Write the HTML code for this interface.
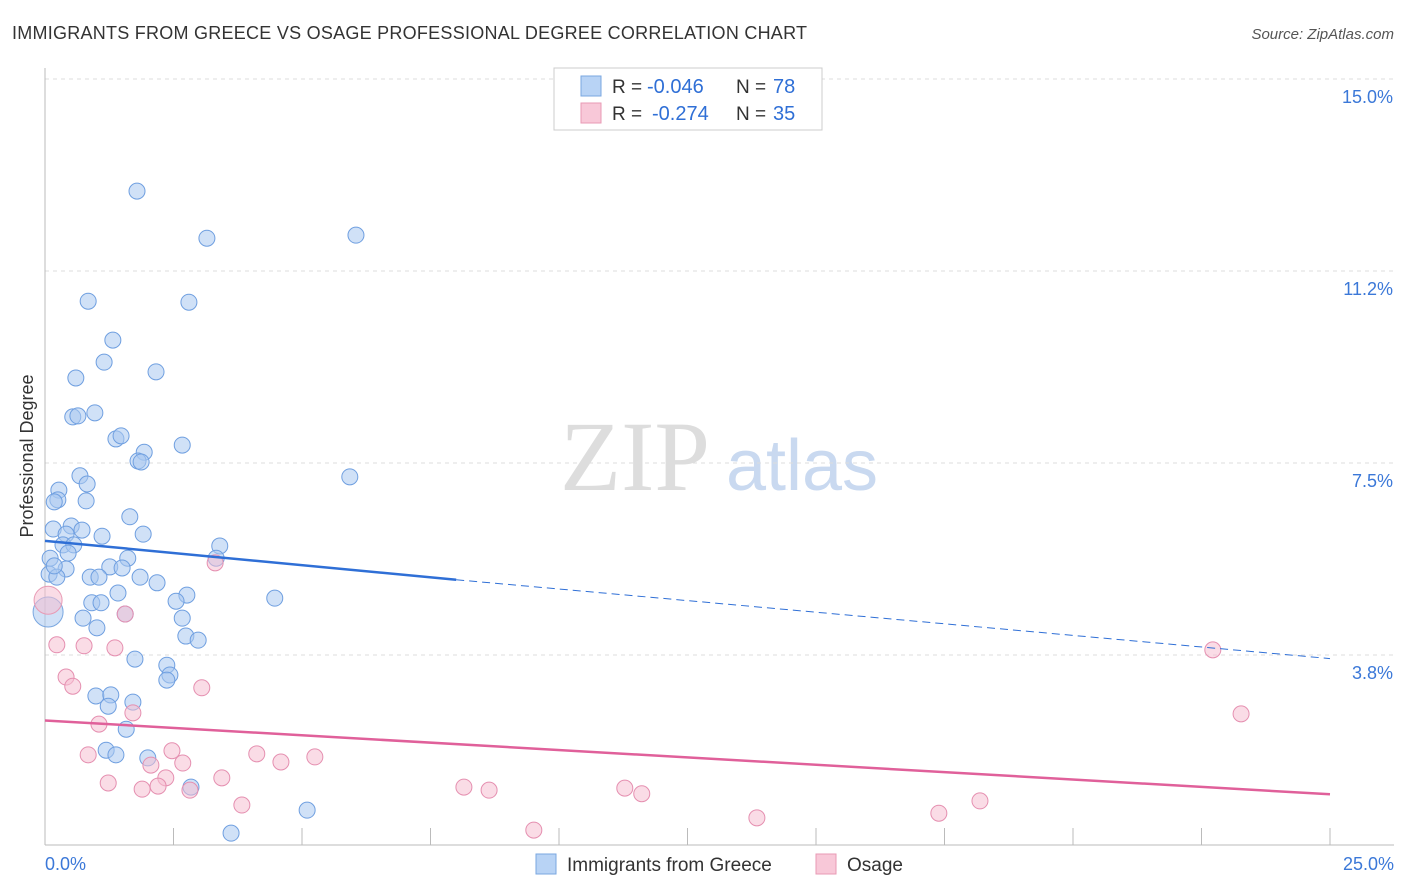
<!DOCTYPE html>
<html><head><meta charset="utf-8"><style>
body{margin:0;background:#fff;font-family:"Liberation Sans",sans-serif;}
svg{display:block}
</style></head><body>
<svg id="chart" width="1406" height="892">
<text x="12" y="39" font-size="18" fill="#333" textLength="795">IMMIGRANTS FROM GREECE VS OSAGE PROFESSIONAL DEGREE CORRELATION CHART</text>
<text x="1394" y="39" font-size="15" fill="#555" font-style="italic" text-anchor="end">Source: ZipAtlas.com</text>
<text x="33" y="456" font-size="18" fill="#333" text-anchor="middle" transform="rotate(-90 33 456)">Professional Degree</text>
<g><text x="635" y="490" font-size="100" fill="#ddd" font-family="Liberation Serif" text-anchor="middle">ZIP</text><text x="802" y="490" font-size="72" fill="#c9d9f0" text-anchor="middle">atlas</text></g>
<g id="grid"></g><g id="pts"></g><g id="trend"></g>
<g>
<rect x="554" y="68" width="268" height="62" fill="#fff" stroke="#ccc"/>
<rect x="581" y="76" width="20" height="20" fill="#b8d3f5" stroke="#7aa7e0"/>
<rect x="581" y="103" width="20" height="20" fill="#f8c8d8" stroke="#e89ab4"/>
<text x="612" y="93" font-size="19" fill="#333">R =</text><text x="647" y="93" font-size="20" fill="#2f6fd6">-0.046</text>
<text x="736" y="93" font-size="19" fill="#333">N =</text><text x="773" y="93" font-size="20" fill="#2f6fd6">78</text>
<text x="612" y="120" font-size="19" fill="#333">R =</text><text x="652" y="120" font-size="20" fill="#2f6fd6">-0.274</text>
<text x="736" y="120" font-size="19" fill="#333">N =</text><text x="773" y="120" font-size="20" fill="#2f6fd6">35</text>
</g>
<g>
<rect x="536" y="854" width="20" height="20" fill="#b8d3f5" stroke="#7aa7e0"/>
<text x="567" y="871" font-size="19" fill="#333">Immigrants from Greece</text>
<rect x="816" y="854" width="20" height="20" fill="#f8c8d8" stroke="#e89ab4"/>
<text x="847" y="871" font-size="19" fill="#333">Osage</text>
</g>
</svg>
<script>
const yTicks=[15.0,11.25,7.5,3.75];
const yTickLabels=["15.0%","11.2%","7.5%","3.8%"];
const xMin=0,xMax=25;
const blueX=[1.79,3.15,6.05,0.84,2.80,1.32,1.15,2.16,0.60,0.54,0.64,0.97,1.38,1.48,2.67,1.93,1.81,1.87,5.93,0.68,0.27,0.82,0.25,0.18,0.80,1.65,0.16,0.51,0.72,0.41,1.11,1.91,0.35,0.56,0.45,3.40,1.61,3.33,0.10,0.41,1.26,1.50,0.08,0.23,0.88,1.05,1.85,2.18,1.42,2.76,4.47,0.91,1.09,2.55,1.56,0.74,2.67,1.01,2.74,2.98,1.75,2.37,2.43,2.37,0.99,1.28,1.23,1.71,1.58,1.19,1.38,2.00,2.84,5.10,3.62,0.18];
const blueY=[12.81,11.89,11.95,10.66,10.64,9.90,9.47,9.28,9.16,8.40,8.42,8.48,7.97,8.03,7.85,7.71,7.54,7.52,7.23,7.25,6.97,7.09,6.78,6.74,6.76,6.45,6.21,6.27,6.19,6.11,6.07,6.11,5.90,5.90,5.74,5.88,5.64,5.64,5.64,5.43,5.47,5.45,5.33,5.27,5.27,5.27,5.27,5.16,4.96,4.92,4.86,4.77,4.77,4.80,4.55,4.47,4.47,4.28,4.12,4.04,3.67,3.55,3.36,3.26,2.95,2.97,2.75,2.83,2.30,1.89,1.80,1.74,1.17,0.72,0.27,5.49];
const pinkX=[22.72,23.27,3.31,1.56,0.23,0.76,1.36,0.41,0.54,3.05,1.71,1.05,2.47,0.84,2.06,2.68,4.12,4.59,5.25,2.35,1.23,3.44,1.89,2.20,2.82,8.15,8.64,11.28,11.61,3.83,18.19,17.39,13.85,9.51];
const pinkY=[3.85,2.60,5.55,4.55,3.95,3.93,3.89,3.32,3.14,3.11,2.62,2.40,1.88,1.80,1.60,1.64,1.82,1.66,1.76,1.35,1.25,1.35,1.13,1.19,1.11,1.17,1.11,1.15,1.04,0.82,0.90,0.66,0.57,0.33];
const bigBlue=[0.06,4.59], bigPink=[0.06,4.82];
const blueTrend=[0,5.98,8,5.22,25,3.68];
const pinkTrend=[0,2.47,25,1.03];
const NS="http://www.w3.org/2000/svg";
const sx=v=>45+(v-xMin)/(xMax-xMin)*1285;
const sy=v=>847-v*51.2;
function mk(tag,attrs,parent){const e=document.createElementNS(NS,tag);for(const k in attrs)e.setAttribute(k,attrs[k]);parent.appendChild(e);return e;}
const grid=document.getElementById('grid');
yTicks.forEach((t,i)=>{
 const l=mk('line',{x1:45,x2:1394,y1:sy(t),y2:sy(t),stroke:'#ddd','stroke-dasharray':'4,4'},grid);
 
 
 const tx=mk('text',{x:1393,y:sy(t)+24,'font-size':18,fill:'#3b78d8','text-anchor':'end'},grid);
 tx.textContent=yTickLabels[i];
 
 
});
const ax=mk('line',{x1:45,x2:1394,y1:845,y2:845,stroke:'#bbb'},grid);


const ay=mk('line',{x1:45,x2:45,y1:68,y2:845,stroke:'#bbb'},grid);


for(let i=0;i<=10;i++){const t=mk('line',{x1:sx(i*2.5),x2:sx(i*2.5),y1:828,y2:845,stroke:'#bbb'},grid);
 
 }
[["0.0%",45,"start"],["25.0%",1394,"end"]].forEach(([s,x,a])=>{const t=mk('text',{x:x,y:870,'font-size':18,fill:'#3b78d8','text-anchor':a},grid);t.textContent=s;
 
 });
const pts=document.getElementById('pts');
function dot(x,y,r,fill,stroke,name){const c=mk('circle',{cx:sx(x),cy:sy(y),r:r,fill:fill,stroke:stroke,'fill-opacity':0.55,'stroke-width':1},pts);
 
 }
dot(bigBlue[0],bigBlue[1],15,'#aac8f0','#7aa7e0','point-greece');
dot(bigPink[0],bigPink[1],14,'#f6c0d2','#e89ab4','point-osage');
blueX.forEach((x,i)=>dot(x,blueY[i],8,'#aac8f0','#6f9fe0','point-greece'));
pinkX.forEach((x,i)=>dot(x,pinkY[i],8,'#f6c0d2','#e58fb0','point-osage'));
const tr=document.getElementById('trend');
const b1=mk('line',{x1:sx(blueTrend[0]),y1:sy(blueTrend[1]),x2:sx(blueTrend[2]),y2:sy(blueTrend[3]),stroke:'#2f6fd6','stroke-width':2.5},tr);


const b2=mk('line',{x1:sx(blueTrend[2]),y1:sy(blueTrend[3]),x2:sx(blueTrend[4]),y2:sy(blueTrend[5]),stroke:'#2f6fd6','stroke-width':1,'stroke-dasharray':'8,5'},tr);


const p1=mk('line',{x1:sx(pinkTrend[0]),y1:sy(pinkTrend[1]),x2:sx(pinkTrend[2]),y2:sy(pinkTrend[3]),stroke:'#e0609a','stroke-width':2.5},tr);


</script>
</body></html>
